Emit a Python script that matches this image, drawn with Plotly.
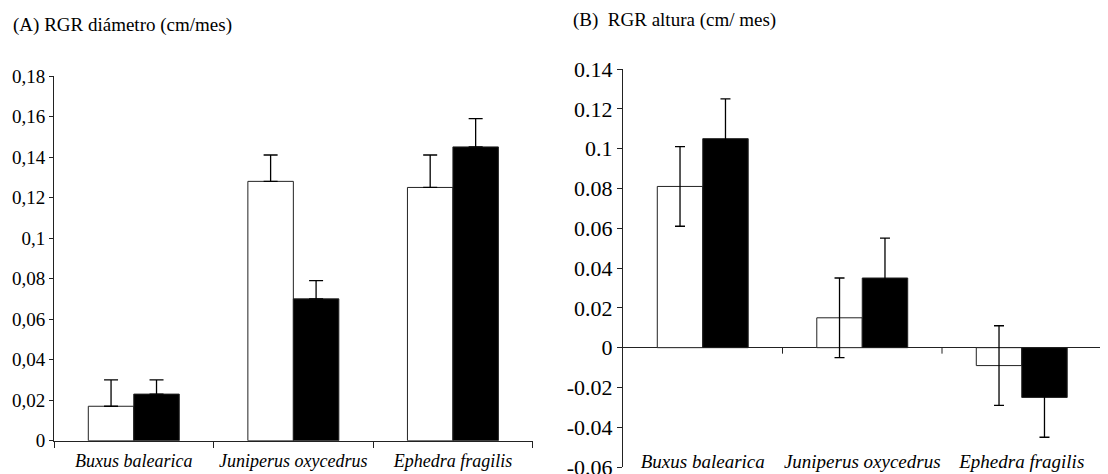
import plotly.graph_objects as go

# ---------------- data ----------------
categories = ["Buxus balearica", "Juniperus oxycedrus", "Ephedra fragilis"]

# Panel A: RGR diámetro
diam_white = [0.017, 0.128, 0.125]
diam_white_err = [0.013, 0.013, 0.016]
diam_black = [0.023, 0.070, 0.145]
diam_black_err = [0.007, 0.009, 0.014]

# Panel B: RGR altura
alt_white = [0.081, 0.015, -0.009]
alt_white_err = [0.020, 0.020, 0.020]
alt_black = [0.105, 0.035, -0.025]
alt_black_err = [0.020, 0.020, 0.020]

tickvals_a = [0, 0.02, 0.04, 0.06, 0.08, 0.10, 0.12, 0.14, 0.16, 0.18]
ticktext_a = ["0", "0,02", "0,04", "0,06", "0,08", "0,1", "0,12", "0,14", "0,16", "0,18"]
tickvals_b = [-0.06, -0.04, -0.02, 0, 0.02, 0.04, 0.06, 0.08, 0.10, 0.12, 0.14]
ticktext_b = ["-0.06", "-0.04", "-0.02", "0", "0.02", "0.04", "0.06", "0.08", "0.1", "0.12", "0.14"]

title_a = "(A) RGR diámetro (cm/mes)"
title_b = "(B)\u00a0 RGR altura (cm/ mes)"

# ---------------- figure ----------------
PAGE_W, PAGE_H = 1108, 474
OFF = 8                      # default body margin of the html page
W, H = PAGE_W - OFF, PAGE_H - OFF
FONT = "Liberation Serif"
outline = dict(color="#222222", width=1)
axcol = "#222222"


def fx(px):
    return (px - OFF) / W


def fy(py):
    return 1 - (py - OFF) / H


fig = go.Figure()


def add_bars(xa, ya, white, werr, black, berr, one_sided, capw):
    for vals, errs, fill in ((white, werr, "white"), (black, berr, "black")):
        ey = dict(type="data", array=errs, color="black", thickness=1.3, width=capw, visible=True)
        if one_sided:
            ey["symmetric"] = False
            ey["arrayminus"] = [0] * len(errs)
        fig.add_trace(go.Bar(
            x=categories, y=vals, xaxis=xa, yaxis=ya,
            marker=dict(color=fill, line=outline),
            error_y=ey, showlegend=False, hoverinfo="skip",
        ))


add_bars("x", "y", diam_white, diam_white_err, diam_black, diam_black_err, True, 7)
add_bars("x2", "y2", alt_white, alt_white_err, alt_black, alt_black_err, False, 5)

fig.update_layout(
    width=W, height=H,
    margin=dict(l=0, r=0, t=0, b=0, pad=0, autoexpand=False),
    paper_bgcolor="white", plot_bgcolor="white",
    barmode="group", bargap=0.43, bargroupgap=0,
    font=dict(family=FONT, color="black"),
    xaxis=dict(
        domain=[fx(54), fx(532.7)], anchor="y", automargin=False,
        type="category", categoryorder="array", categoryarray=categories,
        range=[-0.5, len(categories) - 0.5],
        showline=True, linecolor=axcol, linewidth=1,
        ticks="outside", tickson="boundaries", ticklen=6, tickcolor=axcol,
        tickfont=dict(family=FONT, size=18, style="italic"),
        ticklabelstandoff=4,
        showgrid=False, zeroline=False,
    ),
    yaxis=dict(
        domain=[fy(440.7), fy(76)], anchor="x", automargin=False,
        range=[0, 0.18], tickvals=tickvals_a, ticktext=ticktext_a,
        showline=True, linecolor=axcol, linewidth=1,
        ticks="outside", ticklen=4, tickcolor=axcol,
        tickfont=dict(family=FONT, size=19),
        showgrid=False, zeroline=False,
    ),
    xaxis2=dict(
        domain=[fx(623), fx(1101.5)], anchor="y2", automargin=False,
        type="category", categoryorder="array", categoryarray=categories,
        range=[-0.5, len(categories) - 0.5],
        showline=False, ticks="",
        tickfont=dict(family=FONT, size=19, style="italic"),
        ticklabelstandoff=-19,
        showgrid=False, zeroline=False,
    ),
    yaxis2=dict(
        domain=[fy(467.3), fy(68.8)], anchor="x2", automargin=False,
        range=[-0.0601, 0.1401], tickvals=tickvals_b, ticktext=ticktext_b,
        ticklabeloverflow="allow",
        showline=True, linecolor=axcol, linewidth=1,
        ticks="outside", ticklen=5, tickcolor=axcol,
        tickfont=dict(family=FONT, size=22),
        showgrid=False,
        zeroline=True, zerolinecolor=axcol, zerolinewidth=1,
    ),
)

# category-boundary ticks on the zero line of panel B
for i in range(len(categories)):
    fig.add_shape(
        type="line", xref="x2", yref="y2",
        x0=i + 0.5, x1=i + 0.5,
        ysizemode="pixel", yanchor=0, y0=0, y1=-6,
        line=dict(color=axcol, width=1),
    )

fig.add_annotation(text=title_a, xref="paper", yref="paper",
                   x=fx(11), y=fy(25), xanchor="left", yanchor="middle",
                   showarrow=False, font=dict(family=FONT, size=19))
fig.add_annotation(text=title_b, xref="paper", yref="paper",
                   x=fx(571), y=fy(20), xanchor="left", yanchor="middle",
                   showarrow=False, font=dict(family=FONT, size=19))

fig.write_html("out.html")
